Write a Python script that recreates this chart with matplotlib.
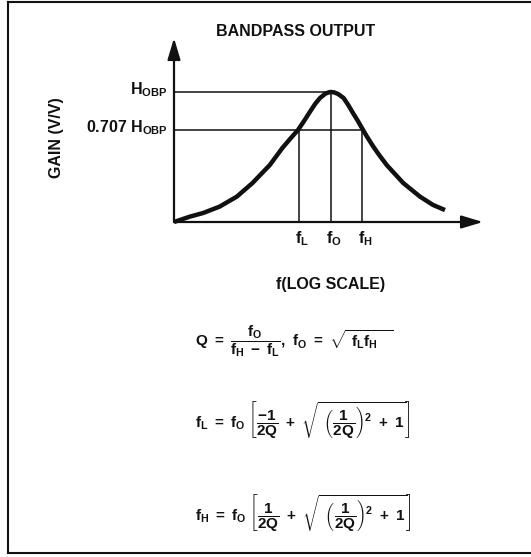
import matplotlib.pyplot as plt
from matplotlib.lines import Line2D

plt.rcParams['font.family'] = ['Liberation Sans', 'DejaVu Sans']
plt.rcParams['font.weight'] = 'bold'
plt.rcParams['mathtext.fontset'] = 'custom'
plt.rcParams['mathtext.rm'] = 'Liberation Sans:bold'
plt.rcParams['mathtext.it'] = 'Liberation Sans:bold'
plt.rcParams['mathtext.bf'] = 'Liberation Sans:bold'
plt.rcParams['mathtext.sf'] = 'Liberation Sans:bold'

# curve: x = log-frequency position (fO = 1), gain in units of H_OBP
curve_x = [0.0, 0.10, 0.185, 0.29, 0.40, 0.50, 0.61, 0.69, 0.74, 0.79, 0.83, 0.866, 0.90,
           0.93, 0.965, 0.99, 1.0, 1.02, 1.045, 1.08, 1.11, 1.14, 1.17, 1.197, 1.23, 1.27,
           1.31, 1.355, 1.46, 1.567, 1.65, 1.726]
curve_gain = [0.0, 0.041, 0.069, 0.118, 0.195, 0.30, 0.438, 0.569, 0.64, 0.708, 0.78, 0.848,
              0.91, 0.954, 0.988, 0.999, 1.0, 0.997, 0.985, 0.954, 0.90, 0.838, 0.78, 0.723,
              0.655, 0.579, 0.51, 0.438, 0.30, 0.195, 0.131, 0.092]

f_marks = [0.796, 1.0, 1.20]
f_labels = [r'$f_L$', r'$f_O$', r'$f_H$']
f_heights = [0.707, 1.0, 0.707]

gain_levels = [1.0, 0.707]
gain_labels = [r'$H_{OBP}$', r'0.707 $H_{OBP}$']
gain_ends = [0.985, 1.20]

formulas = [
    r'$Q\ =\ \dfrac{f_O}{f_H\ -\ f_L},\ f_O\ =\ \sqrt{\ f_L f_H\ \ \ }$',
    r'$f_L\ =\ f_O\ \left[\dfrac{-1}{2Q}\ +\ \sqrt{\ \left(\dfrac{1}{2Q}\right)^2\ +\ 1}\right]$',
    r'$f_H\ =\ f_O\ \left[\dfrac{1}{2Q}\ +\ \sqrt{\ \left(\dfrac{1}{2Q}\right)^2\ +\ 1}\right]$',
]

W, H = 531, 557
fig = plt.figure(figsize=(W / 100, H / 100), dpi=100)
ink = '#111111'

# axes placed so that x=0 at px 174, x=1 at px 331, gain 0 at py 222, gain 1 at py 92
ax = fig.add_axes([174 / W, 1 - 222 / H, 2.0 * 157 / W, 1.45 * 130 / H])
ax.set_xlim(0, 2.0)
ax.set_ylim(0, 1.45)
ax.axis('off')

ax.plot(curve_x, curve_gain, color=ink, lw=3.2, solid_joinstyle='round',
        solid_capstyle='butt', clip_on=False)

for lvl, end in zip(gain_levels, gain_ends):
    ax.plot([0, end], [lvl, lvl], color=ink, lw=1.1)
for fx, fh in zip(f_marks, f_heights):
    ax.plot([fx, fx], [0, fh], color=ink, lw=1.1)

arrow = dict(arrowstyle='-|>,head_length=1.0,head_width=0.3', mutation_scale=13,
             lw=1.6, color=ink, shrinkA=0, shrinkB=0)
ax.annotate('', xy=(0, 1.415), xytext=(0, 0), arrowprops=arrow, annotation_clip=False)
ax.annotate('', xy=(1.968, 0), xytext=(0, 0), arrowprops=arrow, annotation_clip=False)

for fx, lab in zip(f_marks, f_labels):
    ax.text(fx + 0.02, -0.13, lab, ha='center', va='center', fontsize=11.5, color=ink)
for lvl, lab in zip(gain_levels, gain_labels):
    ax.text(-0.04, lvl + 0.015, lab, ha='right', va='center', fontsize=11.5, color=ink)

fig.text(296 / W, 1 - 32 / H, 'BANDPASS OUTPUT', ha='center', va='center',
         fontsize=11.5, color=ink)
fig.text(57 / W, 1 - 138 / H, 'GAIN (V/V)', ha='center', va='center', rotation=90,
         fontsize=11.5, color=ink)
fig.text(331 / W, 1 - 285 / H, 'f(LOG SCALE)', ha='center', va='center',
         fontsize=11.5, color=ink)

for ypx, txt in zip([341, 420, 513], formulas):
    fig.text(195 / W, 1 - ypx / H, txt, ha='left', va='center', fontsize=11, color=ink)

# frame of the figure panel (left, top, bottom edges)
fig.add_artist(Line2D([8 / W, 8 / W], [1 - 2 / H, 1 - 553 / H], color=ink, lw=1.5))
fig.add_artist(Line2D([8 / W, 1.0], [1 - 2 / H, 1 - 2 / H], color=ink, lw=1.5))
fig.add_artist(Line2D([8 / W, 1.0], [1 - 553 / H, 1 - 553 / H], color=ink, lw=1.5))

fig.savefig('out.png', dpi=100, facecolor='white')
